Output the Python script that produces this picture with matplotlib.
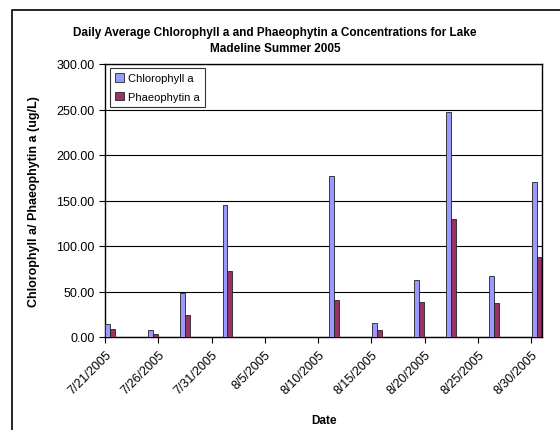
import matplotlib
matplotlib.use("Agg")
import matplotlib.pyplot as plt
import matplotlib.dates as mdates
from matplotlib.patches import Rectangle
import datetime as dt

plt.rcParams['font.family'] = ['Liberation Sans', 'DejaVu Sans']

dates = ["2005-07-21", "2005-07-25", "2005-07-28", "2005-08-01", "2005-08-11",
         "2005-08-15", "2005-08-19", "2005-08-22", "2005-08-26", "2005-08-30"]
chlorophyll = [14.3, 8.0, 48.0, 145.5, 176.5, 15.4, 63.0, 247.0, 67.0, 170.0]
phaeophytin = [8.8, 3.7, 24.0, 72.5, 40.6, 8.0, 38.8, 129.5, 37.4, 88.0]
tick_dates = ["2005-07-21", "2005-07-26", "2005-07-31", "2005-08-05", "2005-08-10",
              "2005-08-15", "2005-08-20", "2005-08-25", "2005-08-30"]
tick_labels = ["7/21/2005", "7/26/2005", "7/31/2005", "8/5/2005", "8/10/2005",
               "8/15/2005", "8/20/2005", "8/25/2005", "8/30/2005"]
yticks = [0, 50, 100, 150, 200, 250, 300]

W, H = 560, 431
fig = plt.figure(figsize=(W / 100, H / 100), dpi=100)
fig.patches.append(Rectangle((12 / W, 0 - 0.01), 1.0, 1 - 11 / H + 0.01,
                             transform=fig.transFigure, fill=False,
                             edgecolor='black', linewidth=1.2))
ax = fig.add_axes([105 / W, 1 - 338 / H, (542 - 105) / W, (338 - 65) / H])

x = [mdates.date2num(dt.datetime.strptime(d, "%Y-%m-%d")) for d in dates]
bw = 0.46
ax.bar([v + 0.03 for v in x], chlorophyll, width=bw, align='edge',
       color='#9999FF', edgecolor='#222222', linewidth=0.6, label='Chlorophyll a', zorder=3)
ax.bar([v + 0.03 + bw for v in x], phaeophytin, width=bw, align='edge',
       color='#993366', edgecolor='#222222', linewidth=0.6, label='Phaeophytin a', zorder=3)

x0 = mdates.date2num(dt.datetime(2005, 7, 21))
x1 = mdates.date2num(dt.datetime(2005, 8, 31))
ax.set_xlim(x0, x1)
ax.set_ylim(0, 300)
tx = [mdates.date2num(dt.datetime.strptime(d, "%Y-%m-%d")) for d in tick_dates]
ax.set_xticks(tx)
ax.set_xticklabels(tick_labels, rotation=45, ha='right', rotation_mode='anchor', fontsize=9)
ax.set_yticks(yticks)
ax.set_yticklabels([f"{v:.2f}" for v in yticks], fontsize=9)
ax.tick_params(axis='both', direction='out', length=4, width=0.8, color='black')
ax.tick_params(axis='x', pad=4)
ax.grid(axis='y', color='black', linewidth=0.8, zorder=0)
for s in ax.spines.values():
    s.set_color('black')
    s.set_linewidth(1.0)

ax.set_xlabel("Date", fontsize=8.5, fontweight='bold', labelpad=13)
ax.set_ylabel("Chlorophyll a/ Phaeophytin a (ug/L)", fontsize=9, fontweight='bold', labelpad=12)
fig.text(275 / W, 1 - 41 / H,
         "Daily Average Chlorophyll a and Phaeophytin a Concentrations for Lake\nMadeline Summer 2005",
         ha='center', va='center', fontsize=8.5, fontweight='bold', linespacing=1.45)

leg = ax.legend(loc='upper left', bbox_to_anchor=(0.011, 0.985), fontsize=8, frameon=True,
                fancybox=False, edgecolor='black', borderpad=0.45, handlelength=0.8,
                handleheight=0.8, handletextpad=0.4, labelspacing=0.75, borderaxespad=0)
leg.get_frame().set_linewidth(0.8)

fig.savefig("out.png", dpi=100)
